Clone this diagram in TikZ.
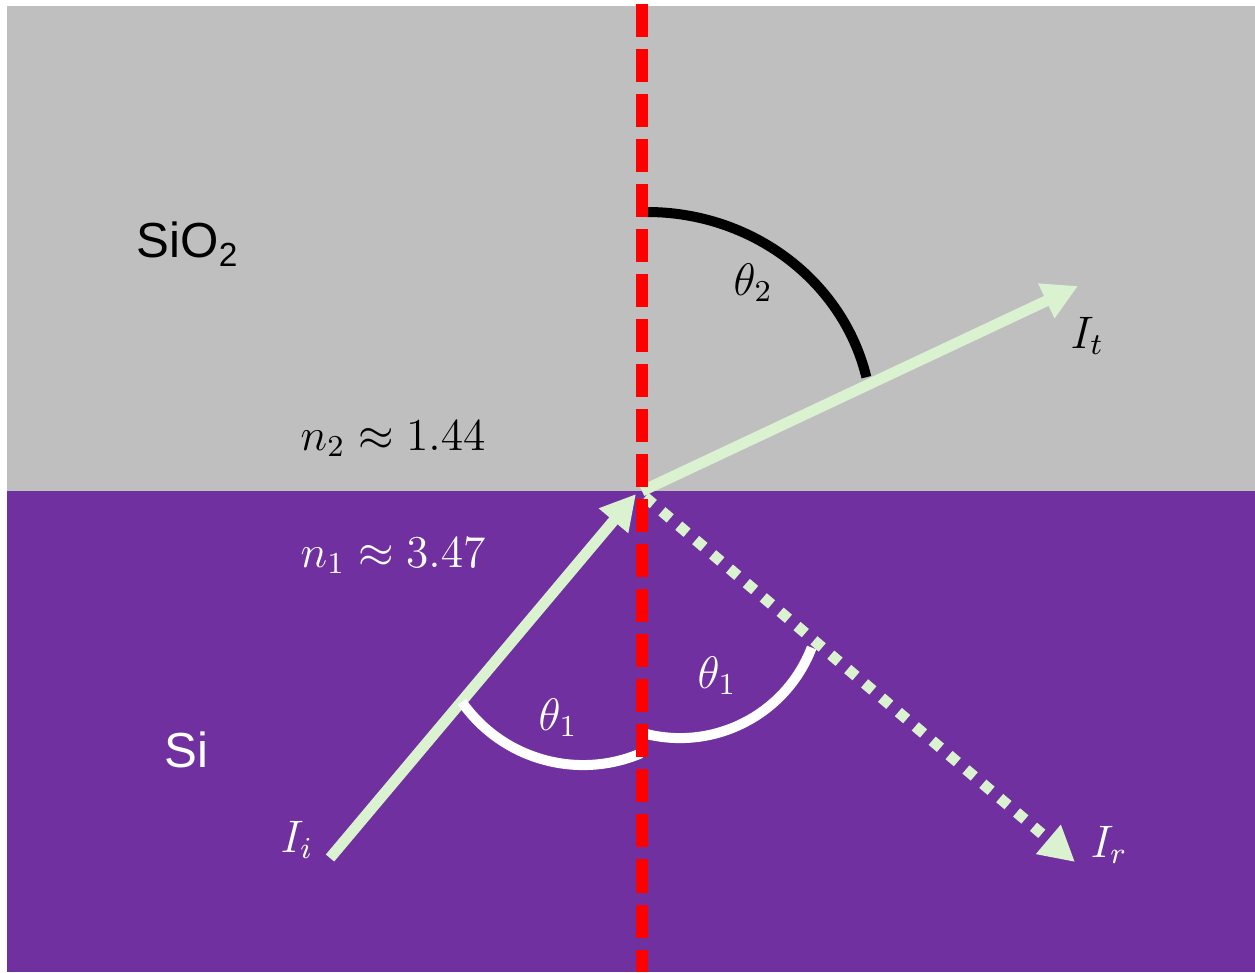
\documentclass[tikz,border=0pt]{standalone}
\usepackage{fontspec}
\usepackage{graphicx}
\newfontfamily\arialfont{Liberation Sans}
\usetikzlibrary{arrows.meta}
\definecolor{oxgray}{HTML}{BFBFBF}
\definecolor{sipurple}{HTML}{7030A0}
\definecolor{raygreen}{HTML}{DAF2D0}
\definecolor{normred}{HTML}{FF0000}
\newcommand{\mathlab}[1]{\scalebox{1.08}{$#1$}}
\tikzset{
  ray/.style={draw=raygreen, line width=3.1pt, -{Triangle[length=0.35cm,width=0.36cm]}},
  dotray/.style={ray, dash pattern=on 3.1pt off 3.2pt},
  normal/.style={draw=normred, line width=3.41pt, dash pattern=on 0.33cm off 0.12cm},
  anglearc/.style={line width=2.85pt},
  mlabel/.style={inner sep=0pt, anchor=base west, font=\fontsize{12}{15}\selectfont},
  slabel/.style={inner sep=0pt, anchor=base west, font=\arialfont\fontsize{14}{17}\selectfont},
}
\begin{document}
\begin{tikzpicture}[x=0.01cm,y=0.01cm]
\useasboundingbox (0,0) rectangle (1255,972);
% media
\fill[oxgray] (7,481) rectangle (1255,966);
\fill[sipurple] (7,0) rectangle (1255,481);
% key points
\coordinate (H) at (642,481);
\coordinate (Istart) at (330,114);
\coordinate (Itip) at (636,478);
\coordinate (Tstart) at (642,481);
\coordinate (Ttip) at (1078,686);
\coordinate (Rstart) at (645,475);
\coordinate (Rtip) at (1075,110);
\coordinate (Ntop) at (642,968);
\coordinate (Nbot) at (642,0);
% rays
\draw[ray] (Istart) -- (Itip);
\draw[ray] (Tstart) -- (Ttip);
\draw[dotray] (Rstart) -- (Rtip);
% angle arcs
\draw[anglearc, black] (647,760) arc[start angle=90, end angle=13, x radius=2.25cm, y radius=2.13cm];
\draw[anglearc, white] (461.8,270.1) arc[start angle=215, end angle=293, radius=1.48cm];
\draw[anglearc, white] (641.1,239.4) arc[start angle=254, end angle=339, radius=1.41cm];
% normal
\draw[normal] (Ntop) -- (Nbot);
% labels
\node[slabel, black] (sio2) at (136,714) {SiO\raisebox{-0.33ex}{\fontsize{9.5}{11}\selectfont 2}};
\node[slabel, white] (si) at (164,205) {Si};
\node[mlabel, black] (n2) at (300,522) {\mathlab{n_2 \approx 1.44}};
\node[mlabel, white] (n1) at (300,405) {\mathlab{n_1 \approx 3.47}};
\node[mlabel, black] (th2) at (733,677) {\mathlab{\theta_2}};
\node[mlabel, white] (th1a) at (538,242) {\mathlab{\theta_1}};
\node[mlabel, white] (th1b) at (697,284) {\mathlab{\theta_1}};
\node[mlabel, black] (It) at (1070,624) {\mathlab{I_t}};
\node[mlabel, white] (Ii) at (280,120) {\mathlab{I_i}};
\node[mlabel, white] (Ir) at (1090,115) {\mathlab{I_r}};
\end{tikzpicture}
\end{document}
